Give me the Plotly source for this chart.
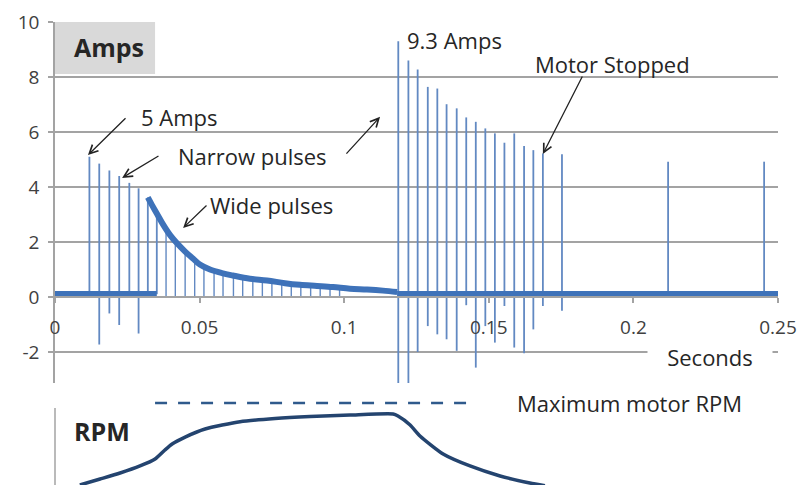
import plotly.graph_objects as go

# ---------------- data ----------------
t_narrow = [0.0119, 0.0153, 0.0188, 0.0222, 0.0257, 0.0289, 0.0321, 0.0352]
amp_narrow_top = [5.1, 4.85, 4.6, 4.4, 4.15, 3.95, 3.62, 3.05]
amp_narrow_low = [0.1, -1.73, -0.6, -1.02, 0.1, -1.33, 0.1, 0.1]

t_wide_gap = [0.0384, 0.0416, 0.0450, 0.0483, 0.0515, 0.0550, 0.0581, 0.0617, 0.0649,
              0.0684, 0.0717, 0.0750, 0.0784, 0.0817, 0.0850, 0.0884, 0.0917, 0.0951, 0.0984]
amp_wide_gap_top = [2.4, 2.05, 1.65, 1.35, 1.15, 1.0, 0.88, 0.78, 0.7,
                    0.64, 0.6, 0.56, 0.52, 0.48, 0.44, 0.42, 0.4, 0.37, 0.33]

t_band = [0.0321, 0.0335, 0.0353, 0.0373, 0.0398, 0.0422, 0.0450, 0.0477, 0.0501, 0.0536,
          0.0577, 0.0615, 0.0674, 0.0733, 0.0795, 0.0847, 0.0906, 0.0961, 0.1020, 0.1079,
          0.1134, 0.1183]
amp_band = [3.62, 3.35, 3.02, 2.65, 2.25, 1.95, 1.65, 1.4, 1.18, 1.0,
            0.87, 0.78, 0.66, 0.6, 0.5, 0.44, 0.4, 0.36, 0.3, 0.27,
            0.23, 0.18]

t_run = [0.1187, 0.1222, 0.1254, 0.1289, 0.1322, 0.1354, 0.1389, 0.1422, 0.1455, 0.1488,
         0.1521, 0.1554, 0.1588, 0.1622, 0.1654, 0.1687, 0.1753, 0.2120, 0.2452]
amp_run_top = [9.3, 8.6, 8.27, 7.64, 7.58, 7.01, 6.86, 6.53, 6.37, 6.13,
               5.95, 5.61, 5.95, 5.49, 5.34, 5.22, 5.19, 4.92, 4.92]
amp_run_low = [-3.5, -3.5, -2.0, -1.06, -1.36, -1.54, -1.96, -0.3, -2.57, -1.06,
               -1.66, -0.33, -1.84, -2.05, -1.18, -0.33, -0.5, 0.1, 0.1]

t_base_1 = [0.0, 0.0352]
t_base_2 = [0.1183, 0.25]
amp_base = 0.13

t_rpm = [0.0086, 0.0156, 0.0225, 0.0294, 0.0346, 0.0380, 0.0405, 0.0450, 0.0519, 0.0640,
         0.0761, 0.0882, 0.1020, 0.1169, 0.1186, 0.1228, 0.1262, 0.1342, 0.1435, 0.1539,
         0.1642, 0.1694]
rpm_rel = [0.0, 0.073, 0.146, 0.232, 0.317, 0.427, 0.5, 0.585, 0.683, 0.772,
           0.811, 0.835, 0.854, 0.866, 0.841, 0.732, 0.598, 0.378, 0.232, 0.11,
           0.024, -0.01]
t_rpm_max = [0.0346, 0.1459]
rpm_max = 1.0

x_ticks = [0, 0.05, 0.1, 0.15, 0.2, 0.25]
x_ticktext = ["0", "0.05", "0.1", "0.15", "0.2", "0.25"]
y_ticks = [-2, 0, 2, 4, 6, 8, 10]
y_ticktext = ["-2", "0", "2", "4", "6", "8", "10"]

def segments(ts, lows, highs):
    xs, ys = [], []
    for t, lo, hi in zip(ts, lows, highs):
        xs += [t, t, None]
        ys += [lo, hi, None]
    return xs, ys

GRID = "#a3a3a3"
PULSE = "#6289c2"
BAND = "#3e72b9"
FONT = "Open Sans"

fig = go.Figure()

xs, ys = segments(t_narrow, amp_narrow_low, amp_narrow_top)
fig.add_trace(go.Scatter(x=xs, y=ys, mode="lines", line=dict(color=PULSE, width=1.8),
                         hoverinfo="skip", showlegend=False))
xs, ys = segments(t_wide_gap, [0.0] * len(t_wide_gap), amp_wide_gap_top)
fig.add_trace(go.Scatter(x=xs, y=ys, mode="lines", line=dict(color=PULSE, width=1.4),
                         hoverinfo="skip", showlegend=False))
xs, ys = segments(t_run, amp_run_low, amp_run_top)
fig.add_trace(go.Scatter(x=xs, y=ys, mode="lines", line=dict(color=PULSE, width=1.8),
                         hoverinfo="skip", showlegend=False))

fig.add_trace(go.Scatter(x=t_base_1 + [None] + t_base_2,
                         y=[amp_base] * 2 + [None] + [amp_base] * 2,
                         mode="lines", line=dict(color=BAND, width=5),
                         hoverinfo="skip", showlegend=False))
fig.add_trace(go.Scatter(x=t_band, y=amp_band, mode="lines",
                         line=dict(color=BAND, width=6, shape="spline"),
                         hoverinfo="skip", showlegend=False))

fig.add_trace(go.Scatter(x=t_rpm, y=rpm_rel, mode="lines", xaxis="x2", yaxis="y2",
                         line=dict(color="#24446f", width=3.5, shape="spline", smoothing=0.6),
                         hoverinfo="skip", showlegend=False))
fig.add_trace(go.Scatter(x=t_rpm_max, y=[rpm_max, rpm_max], mode="lines", xaxis="x2", yaxis="y2",
                         line=dict(color="#2f5a8c", width=2.5, dash="12px,11px"),
                         hoverinfo="skip", showlegend=False))

xdom = [55 / 802, 778 / 802]
ydom = [0.2103, 0.9546]
yr = [-3.13, 10]
xpos = ydom[0] + (0 - yr[0]) / (yr[1] - yr[0]) * (ydom[1] - ydom[0])

fig.update_layout(
    width=802, height=485,
    margin=dict(l=0, r=0, t=0, b=0, pad=0, autoexpand=False),
    paper_bgcolor="white", plot_bgcolor="white",
    font=dict(family=FONT, color="#404040"),
    xaxis=dict(domain=xdom, range=[0, 0.25], anchor="free", position=xpos, automargin=False,
               showgrid=False, zeroline=False, showline=True, linecolor=GRID, linewidth=1.5,
               ticks="outside", ticklen=5, tickcolor=GRID, tickwidth=1.5,
               tickvals=x_ticks, ticktext=x_ticktext, ticklabelstandoff=8,
               tickfont=dict(family=FONT, size=19, color="#404040")),
    yaxis=dict(domain=ydom, range=yr, anchor="x", automargin=False,
               showgrid=True, gridcolor=GRID, gridwidth=1.5,
               zeroline=False, showline=True, linecolor=GRID, linewidth=1.5,
               ticks="outside", ticklen=5, tickcolor=GRID, tickwidth=1.5,
               tickvals=y_ticks, ticktext=y_ticktext, ticklabelstandoff=5,
               tickfont=dict(family=FONT, size=19, color="#404040")),
    xaxis2=dict(domain=xdom, range=[0, 0.25], anchor="y2", visible=False, automargin=False),
    yaxis2=dict(domain=[0, 0.18], range=[0, 1.065], anchor="x2", visible=False, automargin=False),
)

fig.add_shape(type="rect", xref="x", yref="y", x0=0, x1=0.0346, y0=8.11, y1=10,
              fillcolor="#d9d9d9", line=dict(width=0), layer="above")
fig.add_shape(type="line", xref="paper", yref="y2", x0=xdom[0], x1=xdom[0], y0=-0.1, y1=0.94,
              line=dict(color=GRID, width=1.5))

TXT = "#262626"
def label(text, x, y, size=22, xref="x", yref="y", **kw):
    fig.add_annotation(text=text, x=x, y=y, xref=xref, yref=yref, showarrow=False,
                       font=dict(family=FONT, size=size, color=TXT), **kw)

label("<b>Amps</b>", 0.0188, 9.1, size=25)
label("5 Amps", 0.0429, 6.56)
label("Narrow pulses", 0.0683, 5.13)
label("Wide pulses", 0.0747, 3.35)
label("9.3 Amps", 0.1380, 9.35)
label("Motor Stopped", 0.1928, 8.47)
label("Seconds", 0.2265, -2.18, bgcolor="white", width=122, height=26)
label("Maximum motor RPM", 0.1988, 1.0, xref="x2", yref="y2")
label("<b>RPM</b>", 0.0161, 0.66, size=25, xref="x2", yref="y2")

def arrow(x_tip, y_tip, x_tail, y_tail):
    fig.add_annotation(text="", x=x_tip, y=y_tip, ax=x_tail, ay=y_tail,
                       xref="x", yref="y", axref="x", ayref="y",
                       showarrow=True, arrowhead=5, arrowsize=1.3, arrowwidth=1.3,
                       arrowcolor="#222222", standoff=0, startstandoff=0)

arrow(0.0114, 5.16, 0.0249, 6.55)
arrow(0.0232, 4.33, 0.0363, 5.16)
arrow(0.0443, 2.51, 0.0529, 3.38)
arrow(0.1124, 6.55, 0.1003, 5.16)
arrow(0.1687, 5.2, 0.1826, 8.07)

fig.write_html("out.html", config={"displayModeBar": False},
               post_script="document.body.style.margin='0';document.body.style.overflow='hidden';")
